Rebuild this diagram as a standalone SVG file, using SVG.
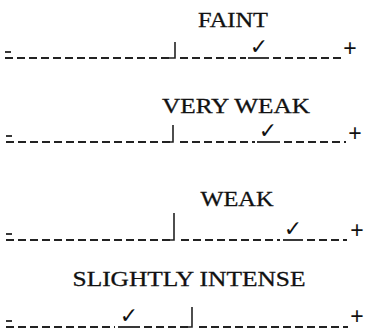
<svg xmlns="http://www.w3.org/2000/svg" width="366" height="333" viewBox="0 0 366 333">
<style>
.lbl{font-family:"Liberation Serif","Times New Roman",serif;font-size:21px;fill:#111;stroke:#111;stroke-width:0.3;text-anchor:middle}
.d{stroke:#222;stroke-width:1.8;stroke-dasharray:8 4;fill:none}
.u{stroke:#222;stroke-width:1.8;fill:none}
.bar{stroke:#222;stroke-width:1.6;fill:none}
.ck{font-family:"DejaVu Sans",sans-serif;font-size:22px;font-weight:bold;fill:#111;text-anchor:middle}
.pm{font-family:"Liberation Sans",Arial,sans-serif;font-size:23px;fill:#111;text-anchor:middle}
</style>
<rect width="366" height="333" fill="#fff"/>
<g id="row1">
<text class="lbl" x="233" y="27" textLength="70" lengthAdjust="spacingAndGlyphs">FAINT</text>
<line class="u" x1="5" y1="52" x2="11" y2="52"/>
<line class="d" x1="5" y1="58" x2="171" y2="58"/>
<polyline class="bar" points="168,58 175,58 175,42"/>
<line class="d" x1="180" y1="58" x2="246" y2="58"/>
<text class="ck" x="259" y="54">✓</text>
<line class="u" x1="248" y1="58" x2="269" y2="58"/>
<line class="d" x1="273" y1="58" x2="341" y2="58"/>
<text class="pm" x="350" y="56">+</text>
</g>
<g id="row2">
<text class="lbl" x="236" y="113" textLength="148" lengthAdjust="spacingAndGlyphs">VERY WEAK</text>
<line class="u" x1="6" y1="136" x2="12" y2="136"/>
<line class="d" x1="6" y1="142" x2="170" y2="142"/>
<polyline class="bar" points="166,142 173,142 173,125"/>
<line class="d" x1="180" y1="142" x2="255" y2="142"/>
<text class="ck" x="268" y="138">✓</text>
<line class="u" x1="257" y1="142" x2="280" y2="142"/>
<line class="d" x1="284" y1="142" x2="346" y2="142"/>
<text class="pm" x="355" y="141">+</text>
</g>
<g id="row3">
<text class="lbl" x="237" y="206" textLength="73" lengthAdjust="spacingAndGlyphs">WEAK</text>
<line class="u" x1="6" y1="234" x2="12" y2="234"/>
<line class="d" x1="6" y1="240" x2="171" y2="240"/>
<polyline class="bar" points="167,240 174,240 174,213"/>
<line class="d" x1="181" y1="240" x2="280" y2="240"/>
<text class="ck" x="293" y="236">✓</text>
<line class="u" x1="283" y1="240" x2="303" y2="240"/>
<line class="d" x1="307" y1="240" x2="347" y2="240"/>
<text class="pm" x="357" y="238">+</text>
</g>
<g id="row4">
<text class="lbl" x="189" y="286" textLength="233" lengthAdjust="spacingAndGlyphs">SLIGHTLY INTENSE</text>
<line class="u" x1="6" y1="321" x2="12" y2="321"/>
<line class="d" x1="6" y1="327" x2="115" y2="327"/>
<text class="ck" x="129" y="323">✓</text>
<line class="u" x1="118" y1="327" x2="140" y2="327"/>
<line class="d" x1="144" y1="327" x2="188" y2="327"/>
<polyline class="bar" points="186,327 192,327 192,307"/>
<line class="d" x1="199" y1="327" x2="348" y2="327"/>
<text class="pm" x="357" y="324">+</text>
</g>
</svg>
